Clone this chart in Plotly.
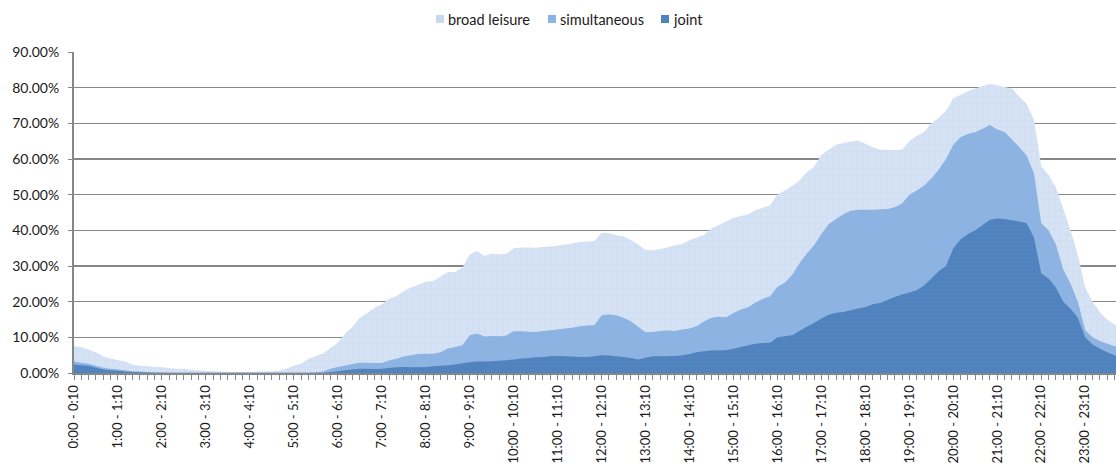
import plotly.graph_objects as go

# 10-minute time slots (categories)
categories = [f"{h}:{m:02d} - {h + (m + 10) // 60}:{(m + 10) % 60:02d}" for h in range(24) for m in range(0, 60, 10)]
hour_labels = [c if i % 6 == 0 else "" for i, c in enumerate(categories)]

series_names = ["broad leisure", "simultaneous", "joint"]

broad_leisure = [
    7.6, 7.2, 6.6, 5.8, 4.6, 4.1, 3.6, 3.2, 2.3, 2.0, 1.9, 1.7,
    1.6, 1.4, 1.2, 1.1, 0.9, 0.8, 0.6, 0.5, 0.4, 0.3, 0.3, 0.3,
    0.3, 0.4, 0.4, 0.5, 0.6, 1.2, 2.0, 2.6, 4.0, 4.8, 5.5, 7.0,
    8.5, 11.0, 13.0, 15.5, 16.8, 18.3, 19.2, 20.8, 21.5, 23.0, 24.0, 24.8,
    25.6, 25.8, 27.0, 28.3, 28.3, 29.5, 33.2, 34.2, 32.9, 33.4, 33.3, 33.4,
    35.0, 35.2, 35.2, 35.1, 35.3, 35.5, 35.7, 36.0, 36.3, 36.7, 36.9, 37.0,
    39.3, 39.2, 38.6, 38.3, 37.3, 36.0, 34.5, 34.5, 34.8, 35.2, 35.8, 36.2,
    37.2, 38.0, 38.7, 40.6, 41.5, 42.5, 43.5, 44.0, 44.5, 45.6, 46.3, 47.0,
    50.0, 51.2, 52.5, 54.0, 56.3, 57.8, 61.2, 62.6, 64.0, 64.5, 64.9, 65.2,
    64.3, 63.3, 62.6, 62.5, 62.5, 62.6, 65.0, 66.5, 67.5, 70.0, 71.5, 73.5,
    77.0, 78.0, 79.0, 79.8, 80.5, 81.0, 80.7, 80.2, 79.8, 77.5, 75.5, 71.0,
    58.0, 55.5, 52.0, 46.0, 40.0, 33.0, 24.0, 20.0, 17.0, 15.0, 13.5, 12.5,
]

simultaneous = [
    3.2, 2.9, 2.6, 2.0, 1.5, 1.2, 1.0, 0.8, 0.5, 0.4, 0.3, 0.2,
    0.15, 0.1, 0.1, 0.1, 0.1, 0.05, 0.05, 0.05, 0.05, 0.05, 0.05, 0.05,
    0.05, 0.05, 0.05, 0.05, 0.05, 0.05, 0.05, 0.05, 0.1, 0.2, 0.4, 1.2,
    1.7, 2.1, 2.5, 2.9, 2.9, 2.8, 2.8, 3.5, 4.0, 4.6, 5.0, 5.3,
    5.4, 5.4, 5.8, 6.9, 7.3, 7.8, 10.6, 11.1, 10.2, 10.4, 10.3, 10.5,
    11.7, 11.7, 11.6, 11.5, 11.8, 12.0, 12.2, 12.5, 12.7, 13.1, 13.3, 13.4,
    16.2, 16.4, 16.2, 15.5, 14.5, 13.0, 11.4, 11.5, 11.8, 11.9, 11.8, 12.2,
    12.5, 13.2, 14.5, 15.5, 15.8, 15.6, 16.8, 17.8, 18.4, 19.8, 20.8, 21.5,
    24.2, 25.3, 27.5, 30.8, 33.5, 35.8, 39.0, 41.8, 43.2, 44.5, 45.5, 45.8,
    45.8, 45.8, 45.9, 46.0, 46.5, 47.5, 50.0, 51.2, 52.5, 54.5, 57.0, 60.0,
    64.0, 66.2, 67.0, 67.6, 68.5, 69.5, 68.3, 67.6, 65.5, 63.3, 61.0, 56.0,
    42.0, 40.0, 36.0, 29.0, 25.0, 20.0, 12.0, 10.0, 9.0, 8.2, 7.5, 7.0,
]

joint = [
    2.4, 2.2, 2.0, 1.5, 1.0, 0.8, 0.6, 0.4, 0.3, 0.2, 0.15, 0.1,
    0.1, 0.05, 0.05, 0.05, 0.05, 0.05, 0.05, 0.05, 0.05, 0.05, 0.05, 0.05,
    0.05, 0.05, 0.05, 0.05, 0.05, 0.05, 0.05, 0.05, 0.05, 0.05, 0.1, 0.3,
    0.5, 0.8, 1.0, 1.2, 1.2, 1.1, 1.2, 1.4, 1.6, 1.7, 1.6, 1.6,
    1.7, 1.9, 2.0, 2.2, 2.4, 2.7, 3.0, 3.2, 3.2, 3.3, 3.4, 3.6,
    3.8, 4.1, 4.2, 4.4, 4.5, 4.7, 4.8, 4.7, 4.6, 4.5, 4.5, 4.7,
    5.0, 4.9, 4.7, 4.5, 4.2, 3.8, 4.3, 4.7, 4.7, 4.7, 4.8, 5.0,
    5.3, 5.8, 6.1, 6.3, 6.4, 6.4, 6.8, 7.3, 7.8, 8.2, 8.4, 8.5,
    10.0, 10.3, 10.6, 11.8, 13.0, 14.0, 15.3, 16.3, 16.9, 17.1, 17.6, 18.1,
    18.4, 19.3, 19.6, 20.5, 21.3, 22.0, 22.6, 23.2, 24.5, 26.5, 28.5, 30.0,
    35.0, 37.5, 39.0, 40.0, 41.5, 43.0, 43.3, 43.2, 42.8, 42.5, 42.0, 38.0,
    28.0, 26.5, 24.0, 20.0, 18.0, 15.5, 10.0, 8.0, 6.8, 5.8, 5.0, 4.3,
]

FONT = "Lato"
GRID = "#878787"
W, H = 1116, 473
ML, MR, MT, MB = 74, 0, 52, 100
colors = ["#d3e1f4", "#8db3e2", "#4f81bd"]
patterns = [
    dict(shape="+", bgcolor="#d6e3f5", fgcolor="#bccfea", size=6, solidity=0.15),
    None,
    dict(shape="+", bgcolor="#4f81bd", fgcolor="#5a8ac4", size=4, solidity=0.3),
]

fig = go.Figure()
for name, vals, col, pat in zip(series_names, [broad_leisure, simultaneous, joint], colors, patterns):
    kw = dict(fillpattern=pat) if pat else {}
    fig.add_trace(go.Scatter(
        x=categories, y=[v / 100 for v in vals], name=name,
        mode="none", fill="tozeroy", fillcolor=col, showlegend=False,
        hoverinfo="skip", **kw,
    ))

# legend: small square keys + labels placed at the top centre
pw, ph = W - ML - MR, H - MT - MB
def px_to_paper_x(px):
    return (px - ML) / pw
def px_to_paper_y(py):
    return (H - MB - py) / ph

legend_cols = ["#c6d9f1", "#8db3e2", "#4f81bd"]
legend_key_x = [436, 548, 661]
legend_y = 19
for name, col, kx in zip(series_names, legend_cols, legend_key_x):
    fig.add_shape(type="rect", xref="paper", yref="paper",
                  x0=px_to_paper_x(kx), x1=px_to_paper_x(kx + 8),
                  y0=px_to_paper_y(legend_y + 4), y1=px_to_paper_y(legend_y - 4),
                  fillcolor=col, line=dict(width=0), layer="above")
    fig.add_annotation(xref="paper", yref="paper", x=px_to_paper_x(kx + 10), y=px_to_paper_y(legend_y),
                       text=name, showarrow=False, xanchor="left", yanchor="middle",
                       font=dict(size=14.5, family=FONT, color="#1a1a1a"))

fig.update_layout(
    width=W, height=H,
    margin=dict(l=ML, r=MR, t=MT, b=MB, autoexpand=False),
    paper_bgcolor="white", plot_bgcolor="white",
    font=dict(family=FONT, size=13, color="#1a1a1a"),
    showlegend=False,
    xaxis=dict(
        type="category", range=[0, 142.2], automargin=False,
        tickmode="array", tickvals=categories, ticktext=hour_labels,
        tickangle=-90, ticks="outside", ticklen=5, tickcolor=GRID, tickwidth=1,
        showline=True, linecolor=GRID, linewidth=2,
        showgrid=False, zeroline=False, tickfont=dict(size=13),
    ),
    yaxis=dict(
        range=[0, 0.9], dtick=0.1, tick0=0, tickformat=".2%", automargin=False,
        ticks="outside", ticklen=4, tickcolor=GRID, ticklabelstandoff=6,
        showline=True, linecolor=GRID, linewidth=2,
        showgrid=True, gridcolor=GRID, gridwidth=1.4, zeroline=False,
        tickfont=dict(size=14),
    ),
)

fig.write_html("out.html", config={"displayModeBar": False, "staticPlot": True},
               post_script="document.body.style.margin='0px';")
